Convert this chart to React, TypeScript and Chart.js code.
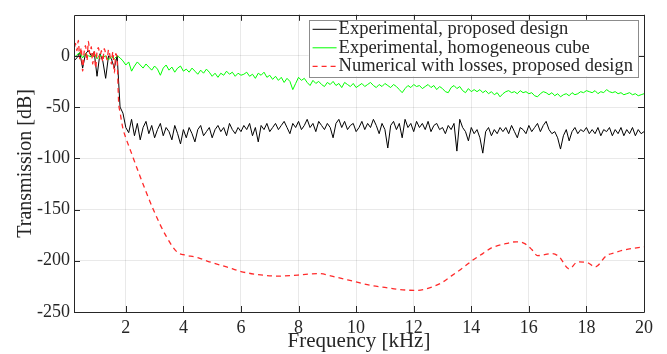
import React, { useEffect, useRef } from "react";
import { Chart, registerables } from "chart.js";

Chart.register(...registerables);

// Frequency grid of the measured curves [kHz]
const freqKHz = [
  0.2, 0.3, 0.4, 0.5, 0.6, 0.7, 0.8, 0.9, 1.0, 1.1,
  1.2, 1.3, 1.4, 1.5, 1.6, 1.7, 1.8, 1.9, 2.0, 2.1,
  2.2, 2.3, 2.4, 2.5, 2.6, 2.7, 2.8, 2.9, 3.0, 3.1,
  3.2, 3.3, 3.4, 3.5, 3.6, 3.7, 3.8, 3.9, 4.0, 4.1,
  4.2, 4.3, 4.4, 4.5, 4.6, 4.7, 4.8, 4.9, 5.0, 5.1,
  5.2, 5.3, 5.4, 5.5, 5.6, 5.7, 5.8, 5.9, 6.0, 6.1,
  6.2, 6.3, 6.4, 6.5, 6.6, 6.7, 6.8, 6.9, 7.0, 7.1,
  7.2, 7.3, 7.4, 7.5, 7.6, 7.7, 7.8, 7.9, 8.0, 8.1,
  8.2, 8.3, 8.4, 8.5, 8.6, 8.7, 8.8, 8.9, 9.0, 9.1,
  9.2, 9.3, 9.4, 9.5, 9.6, 9.7, 9.8, 9.9, 10.0, 10.1,
  10.2, 10.3, 10.4, 10.5, 10.6, 10.7, 10.8, 10.9, 11.0, 11.1,
  11.2, 11.3, 11.4, 11.5, 11.6, 11.7, 11.8, 11.9, 12.0, 12.1,
  12.2, 12.3, 12.4, 12.5, 12.6, 12.7, 12.8, 12.9, 13.0, 13.1,
  13.2, 13.3, 13.4, 13.5, 13.6, 13.7, 13.8, 13.9, 14.0, 14.1,
  14.2, 14.3, 14.4, 14.5, 14.6, 14.7, 14.8, 14.9, 15.0, 15.1,
  15.2, 15.3, 15.4, 15.5, 15.6, 15.7, 15.8, 15.9, 16.0, 16.1,
  16.2, 16.3, 16.4, 16.5, 16.6, 16.7, 16.8, 16.9, 17.0, 17.1,
  17.2, 17.3, 17.4, 17.5, 17.6, 17.7, 17.8, 17.9, 18.0, 18.1,
  18.2, 18.3, 18.4, 18.5, 18.6, 18.7, 18.8, 18.9, 19.0, 19.1,
  19.2, 19.3, 19.4, 19.5, 19.6, 19.7, 19.8, 19.9, 20.0,
];

// Experimental, proposed design [dB]
const expProposed = [
  -5, -2, 3, -12, 2, 5, 0, 4, -20, 2,
  -5, -22, 0, -3, -12, 0, -50, -56, -70, -75,
  -62, -78, -66, -82, -70, -64, -76, -68, -80, -72,
  -66, -78, -70, -74, -82, -68, -76, -86, -72, -80,
  -70, -76, -84, -72, -68, -78, -74, -70, -80, -72,
  -68, -74, -70, -78, -66, -72, -76, -70, -74, -68,
  -72, -66, -78, -70, -84, -68, -72, -66, -74, -70,
  -66, -72, -68, -64, -70, -76, -66, -70, -64, -72,
  -68, -62, -70, -66, -74, -64, -68, -72, -66, -70,
  -80, -66, -62, -70, -64, -72, -68, -66, -74, -70,
  -64, -72, -66, -70, -62, -68, -76, -66, -72, -90,
  -68, -64, -72, -66, -80, -62, -70, -66, -74, -64,
  -70, -66, -72, -64, -74, -68, -66, -72, -70, -76,
  -68, -72, -66, -93, -62, -70, -74, -83, -70, -76,
  -72, -80, -95, -74, -70, -78, -72, -76, -70, -74,
  -70, -76, -68, -74, -80, -70, -72, -76, -68, -74,
  -70, -66, -74, -68, -64, -72, -76, -74, -80, -91,
  -78, -72, -83, -74, -70, -76, -72, -74, -70, -76,
  -72, -76, -70, -78, -72, -74, -70, -78, -72, -76,
  -70, -78, -72, -76, -70, -78, -72, -76, -74,
];

// Experimental, homogeneous cube [dB]
const expCube = [
  -2, 1, 3, -2, 2, 0, -1, 3, -3, 1,
  -2, 0, -4, -1, -3, 0, -2, -5, -9, -6,
  -15, -10, -6, -9, -12, -8, -11, -14, -10, -13,
  -19, -12, -9, -14, -11, -16, -12, -10, -15, -13,
  -16, -12, -15, -18, -14, -17, -13, -16, -20, -17,
  -21, -17, -19, -15, -18, -16, -20, -17, -19, -18,
  -16, -20, -18, -22, -17, -19, -16, -21, -19, -23,
  -20, -24, -21, -26, -22, -25, -33, -27, -21, -24,
  -22, -26, -29, -24, -27, -25, -28, -30, -26, -28,
  -25, -29, -27, -31, -26, -28, -30, -27, -31, -29,
  -27, -30, -28, -26, -29, -31, -28, -30, -27, -29,
  -31, -28, -30, -33, -36, -32, -29, -31, -28, -30,
  -29, -32, -30, -28, -31, -29, -33, -30, -32, -35,
  -36, -31, -29, -32, -30, -34, -36, -32, -35, -33,
  -35, -33, -36, -34, -37, -35, -38, -36, -40, -37,
  -35, -34, -36, -35, -37, -34, -36, -35, -37, -36,
  -39, -40, -37, -35, -36, -38, -36, -39, -37, -40,
  -38, -37, -39, -36, -38, -37, -35, -36, -34, -35,
  -36, -34, -37, -35, -36, -33, -35, -36, -35, -37,
  -36, -38, -37, -36, -38, -37, -39, -38, -37,
];

// Numerical with losses, proposed design
const numFreqKHz = [
  0.2, 0.25, 0.3, 0.35, 0.4, 0.45, 0.5, 0.55, 0.6, 0.65,
  0.7, 0.75, 0.8, 0.85, 0.9, 0.95, 1.0, 1.05, 1.1, 1.15,
  1.2, 1.25, 1.3, 1.35, 1.4, 1.45, 1.5, 1.55, 1.6, 1.65,
  1.7, 1.75, 1.8, 1.9, 2.0, 2.17, 2.5, 2.97, 3.4, 3.8,
  4.0, 4.5, 4.9, 5.5, 6.0, 6.6, 7.27, 7.97, 8.7, 9.3,
  9.9, 10.5, 11.0, 11.5, 12.1, 12.6, 13.0, 13.3, 13.7, 14.07,
  14.4, 14.7, 15.1, 15.56, 15.84, 16.1, 16.3, 16.8, 17.05, 17.4,
  17.7, 18.05, 18.3, 18.7, 19.0, 19.3, 19.6, 20.0,
];
const numLosses = [
  0, 12, 5, 15, -3, 8, -15, 3, 10, -5,
  14, 2, 9, -8, 6, -12, 4, 8, -3, 5,
  -6, 7, 2, -4, 6, 0, -8, 4, -17, 2,
  -5, -45, -55, -71, -80, -93, -118, -151, -176, -192,
  -194, -197, -201, -206, -210.5, -213.5, -215, -214, -212.5, -216,
  -220, -224, -226, -228, -229, -226, -221, -215, -207, -199,
  -193, -187.5, -184, -181.5, -183, -189, -195, -193, -196, -208,
  -201, -202, -206, -195, -192, -189.5, -188, -186.5,
];

const xTickValues = [2, 4, 6, 8, 10, 12, 14, 16, 18, 20];
const yTickValues = [-250, -200, -150, -100, -50, 0];

const seriesLabels = [
  "Experimental, proposed design",
  "Experimental, homogeneous cube",
  "Numerical with losses, proposed design",
];

const FONT = "'Liberation Serif', 'Times New Roman', serif";
const AXIS_COLOR = "#262626";

const boxPlugin = {
  id: "matlabBox",
  afterDatasetsDraw(chart: any) {
    const { ctx, chartArea } = chart;
    const { left, right, top, bottom } = chartArea;
    const xs = chart.scales.x;
    const ys = chart.scales.y;
    ctx.save();
    ctx.strokeStyle = AXIS_COLOR;
    ctx.lineWidth = 1;
    ctx.beginPath();
    ctx.rect(Math.round(left) + 0.5, Math.round(top) + 0.5, Math.round(right - left), Math.round(bottom - top));
    ctx.stroke();
    const tl = 6;
    ctx.beginPath();
    xTickValues.forEach((v) => {
      const px = Math.round(xs.getPixelForValue(v)) + 0.5;
      ctx.moveTo(px, bottom);
      ctx.lineTo(px, bottom - tl);
      ctx.moveTo(px, top);
      ctx.lineTo(px, top + tl);
    });
    yTickValues.forEach((v) => {
      const py = Math.round(ys.getPixelForValue(v)) + 0.5;
      ctx.moveTo(left, py);
      ctx.lineTo(left + tl, py);
      ctx.moveTo(right, py);
      ctx.lineTo(right - tl, py);
    });
    ctx.stroke();
    ctx.restore();
  },
  afterDraw(chart: any) {
    const { ctx, chartArea } = chart;
    const ds = chart.data.datasets;
    ctx.save();
    ctx.font = `18.5px ${FONT}`;
    let maxW = 0;
    ds.forEach((d: any) => {
      maxW = Math.max(maxW, ctx.measureText(d.label).width);
    });
    const right = chartArea.right - 6;
    const top = chartArea.top + 5;
    const rowH = 18.5;
    const left = right - (maxW + 35);
    const height = rowH * ds.length + 1;
    ctx.fillStyle = "#ffffff";
    ctx.fillRect(left, top, right - left, height);
    ctx.strokeStyle = "#8c8c8c";
    ctx.lineWidth = 1;
    ctx.strokeRect(Math.round(left) + 0.5, Math.round(top) + 0.5, Math.round(right - left), Math.round(height));
    ds.forEach((d: any, i: number) => {
      const cy = top + 9.5 + i * rowH;
      ctx.beginPath();
      ctx.strokeStyle = d.borderColor;
      ctx.lineWidth = d.borderWidth;
      ctx.setLineDash(d.borderDash || []);
      ctx.moveTo(left + 4, cy);
      ctx.lineTo(left + 28, cy);
      ctx.stroke();
      ctx.setLineDash([]);
      ctx.fillStyle = AXIS_COLOR;
      ctx.textBaseline = "middle";
      ctx.textAlign = "left";
      ctx.fillText(d.label, left + 30, cy);
    });
    ctx.restore();
  },
};

export default function App() {
  const canvasRef = useRef<HTMLCanvasElement | null>(null);

  useEffect(() => {
    if (!canvasRef.current) return;
    const chart = new Chart(canvasRef.current, {
      type: "line",
      data: {
        datasets: [
          {
            label: seriesLabels[0],
            data: freqKHz.map((f, i) => ({ x: f, y: expProposed[i] })),
            borderColor: "#000000",
            borderWidth: 1,
            pointRadius: 0,
            order: 3,
          },
          {
            label: seriesLabels[1],
            data: freqKHz.map((f, i) => ({ x: f, y: expCube[i] })),
            borderColor: "#00ff00",
            borderWidth: 1,
            pointRadius: 0,
            order: 2,
          },
          {
            label: seriesLabels[2],
            data: numFreqKHz.map((f, i) => ({ x: f, y: numLosses[i] })),
            borderColor: "#ff2a2a",
            borderWidth: 1.3,
            borderDash: [5, 4],
            pointRadius: 0,
            cubicInterpolationMode: "monotone",
            order: 1,
          },
        ],
      },
      options: {
        animation: false,
        responsive: false,
        maintainAspectRatio: false,
        layout: { padding: { top: 12, right: 23, left: 0, bottom: 0 } },
        plugins: { legend: { display: false }, tooltip: { enabled: false } },
        scales: {
          x: {
            type: "linear",
            min: 0.2,
            max: 20,
            afterBuildTicks: (scale: any) => {
              scale.ticks = xTickValues.map((v) => ({ value: v }));
            },
            afterFit: (scale: any) => {
              scale.height = 42;
            },
            grid: { color: "rgba(38,38,38,0.1)", drawTicks: false },
            border: { display: false },
            ticks: {
              color: AXIS_COLOR,
              font: { family: FONT, size: 18 },
              padding: 5,
              maxRotation: 0,
              autoSkip: false,
            },
            title: {
              display: true,
              text: "Frequency [kHz]",
              color: AXIS_COLOR,
              font: { family: FONT, size: 21 },
              padding: { top: 0, bottom: 0 },
            },
          },
          y: {
            type: "linear",
            min: -250,
            max: 40,
            afterBuildTicks: (scale: any) => {
              scale.ticks = yTickValues.map((v) => ({ value: v }));
            },
            afterFit: (scale: any) => {
              scale.width = 74;
            },
            grid: { color: "rgba(38,38,38,0.1)", drawTicks: false },
            border: { display: false },
            ticks: {
              color: AXIS_COLOR,
              font: { family: FONT, size: 18 },
              padding: 4,
              autoSkip: false,
            },
            title: {
              display: true,
              text: "Transmission [dB]",
              color: AXIS_COLOR,
              font: { family: FONT, size: 20 },
              padding: { top: 14, bottom: 0 },
            },
          },
        },
      },
      plugins: [boxPlugin],
    } as any);
    return () => chart.destroy();
  }, []);

  return (
    <div style={{ position: "absolute", left: 0, top: 0, width: 667, height: 354, background: "#fff" }}>
      <canvas ref={canvasRef} width={667} height={354} style={{ display: "block" }} />
    </div>
  );
}
